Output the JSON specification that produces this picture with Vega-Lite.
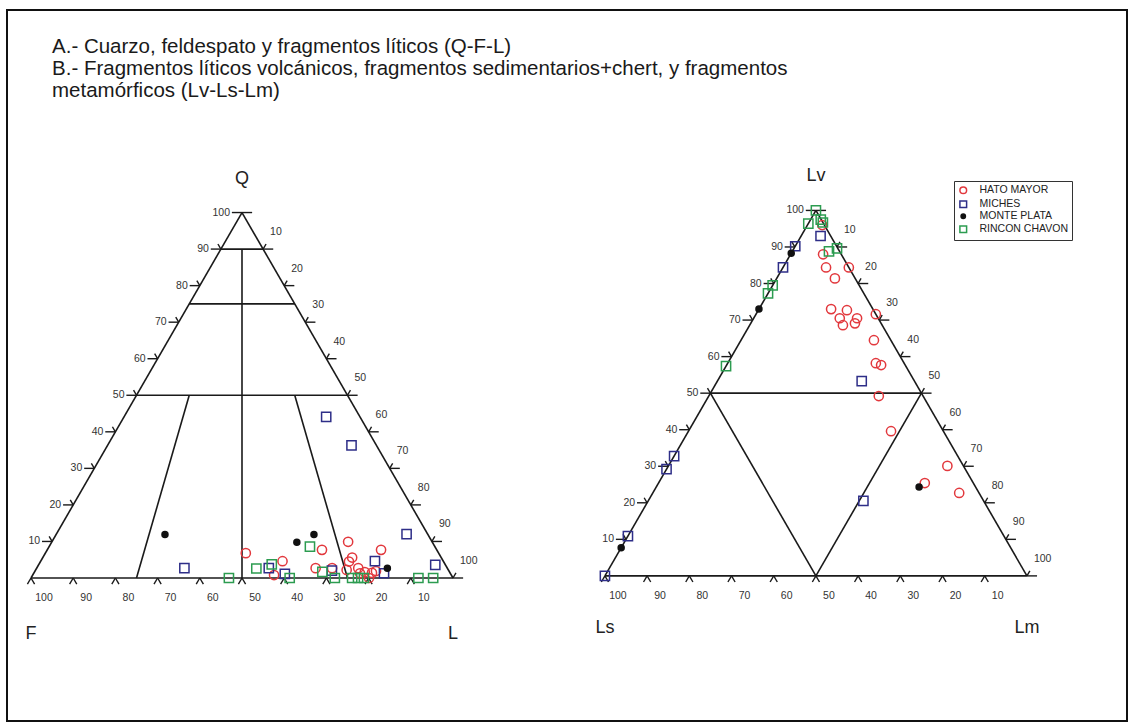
{
  "$schema": "https://vega.github.io/schema/vega-lite/v6.json",
  "width": 1133,
  "height": 726,
  "autosize": {"type": "fit", "contains": "padding"},
  "padding": {"left": 7, "top": 10, "right": 6, "bottom": 5},
  "background": "white",
  "config": {
    "view": {"stroke": "#111111", "strokeWidth": 2},
    "font": "Liberation Sans"
  },
  "datasets": {
    "lineas": [
      {"diagrama": "QFL", "a1": 0, "d1": 0, "a2": 100, "d2": 0},
      {"diagrama": "QFL", "a1": 100, "d1": 0, "a2": 0, "d2": 100},
      {"diagrama": "QFL", "a1": 0, "d1": 0, "a2": 0, "d2": 100},
      {"diagrama": "QFL", "a1": 90, "d1": 0, "a2": 90, "d2": 10},
      {"diagrama": "QFL", "a1": 75, "d1": 0, "a2": 75, "d2": 25},
      {"diagrama": "QFL", "a1": 50, "d1": 0, "a2": 50, "d2": 50},
      {"diagrama": "QFL", "a1": 90, "d1": 5, "a2": 0, "d2": 50},
      {"diagrama": "QFL", "a1": 50, "d1": 12.5, "a2": 0, "d2": 25},
      {"diagrama": "QFL", "a1": 50, "d1": 37.5, "a2": 0, "d2": 75},
      {"diagrama": "LvLsLm", "a1": 0, "d1": 0, "a2": 100, "d2": 0},
      {"diagrama": "LvLsLm", "a1": 100, "d1": 0, "a2": 0, "d2": 100},
      {"diagrama": "LvLsLm", "a1": 0, "d1": 0, "a2": 0, "d2": 100},
      {"diagrama": "LvLsLm", "a1": 50, "d1": 0, "a2": 50, "d2": 50},
      {"diagrama": "LvLsLm", "a1": 50, "d1": 0, "a2": 0, "d2": 50},
      {"diagrama": "LvLsLm", "a1": 50, "d1": 50, "a2": 0, "d2": 50}
    ],
    "marcas": [
      {"diagrama": "QFL", "lado": "izq", "brazo": "h", "v": [10, 20, 30, 40, 50, 60, 70, 80, 90, 100]},
      {"diagrama": "QFL", "lado": "izq", "brazo": "d", "v": [10, 20, 30, 40, 50, 60, 70, 80, 90]},
      {"diagrama": "QFL", "lado": "der", "brazo": "h", "v": [0, 10, 20, 30, 40, 50, 60, 70, 80, 90, 100]},
      {"diagrama": "QFL", "lado": "der", "brazo": "d", "v": [10, 20, 30, 40, 50, 60, 70, 80, 90, 100]},
      {"diagrama": "QFL", "lado": "inf", "brazo": "h", "v": [10, 20, 30, 40, 50, 60, 70, 80, 90, 100]},
      {"diagrama": "QFL", "lado": "inf", "brazo": "d", "v": [10, 20, 30, 40, 50, 60, 70, 80, 90, 100]},
      {"diagrama": "LvLsLm", "lado": "izq", "brazo": "h", "v": [10, 20, 30, 40, 50, 60, 70, 80, 90, 100]},
      {"diagrama": "LvLsLm", "lado": "izq", "brazo": "d", "v": [10, 20, 30, 40, 50, 60, 70, 80, 90]},
      {"diagrama": "LvLsLm", "lado": "der", "brazo": "h", "v": [0, 10, 20, 30, 40, 50, 60, 70, 80, 90, 100]},
      {"diagrama": "LvLsLm", "lado": "der", "brazo": "d", "v": [10, 20, 30, 40, 50, 60, 70, 80, 90, 100]},
      {"diagrama": "LvLsLm", "lado": "inf", "brazo": "h", "v": [10, 20, 30, 40, 50, 60, 70, 80, 90, 100]},
      {"diagrama": "LvLsLm", "lado": "inf", "brazo": "d", "v": [10, 20, 30, 40, 50, 60, 70, 80, 90, 100]}
    ],
    "vertices": [
      {"diagrama": "QFL", "nombre": "Q", "a": 100, "d": 0, "pos": "cima"},
      {"diagrama": "QFL", "nombre": "F", "a": 0, "d": 0, "pos": "base"},
      {"diagrama": "QFL", "nombre": "L", "a": 0, "d": 100, "pos": "base"},
      {"diagrama": "LvLsLm", "nombre": "Lv", "a": 100, "d": 0, "pos": "cima"},
      {"diagrama": "LvLsLm", "nombre": "Ls", "a": 0, "d": 0, "pos": "base"},
      {"diagrama": "LvLsLm", "nombre": "Lm", "a": 0, "d": 100, "pos": "base"}
    ],
    "muestras": [
      {"diagrama": "QFL", "serie": "HATO MAYOR", "Q": 6.8, "L": 47.5},
      {"diagrama": "QFL", "serie": "HATO MAYOR", "Q": 4.6, "L": 57.3},
      {"diagrama": "QFL", "serie": "HATO MAYOR", "Q": 0.8, "L": 57.2},
      {"diagrama": "QFL", "serie": "HATO MAYOR", "Q": 7.7, "L": 65.1},
      {"diagrama": "QFL", "serie": "HATO MAYOR", "Q": 2.7, "L": 66.1},
      {"diagrama": "QFL", "serie": "HATO MAYOR", "Q": 2.7, "L": 70.0},
      {"diagrama": "QFL", "serie": "HATO MAYOR", "Q": 9.9, "L": 70.2},
      {"diagrama": "QFL", "serie": "HATO MAYOR", "Q": 5.6, "L": 73.3},
      {"diagrama": "QFL", "serie": "HATO MAYOR", "Q": 4.5, "L": 73.1},
      {"diagrama": "QFL", "serie": "HATO MAYOR", "Q": 2.2, "L": 73.7},
      {"diagrama": "QFL", "serie": "HATO MAYOR", "Q": 2.7, "L": 76.2},
      {"diagrama": "QFL", "serie": "HATO MAYOR", "Q": 1.3, "L": 77.3},
      {"diagrama": "QFL", "serie": "HATO MAYOR", "Q": 1.4, "L": 80.1},
      {"diagrama": "QFL", "serie": "HATO MAYOR", "Q": 7.7, "L": 79.1},
      {"diagrama": "QFL", "serie": "HATO MAYOR", "Q": 0.0, "L": 80.1},
      {"diagrama": "QFL", "serie": "HATO MAYOR", "Q": 1.6, "L": 78.3},
      {"diagrama": "QFL", "serie": "HATO MAYOR", "Q": 1.9, "L": 80.8},
      {"diagrama": "QFL", "serie": "MICHES", "Q": 44.1, "L": 47.9},
      {"diagrama": "QFL", "serie": "MICHES", "Q": 36.3, "L": 57.8},
      {"diagrama": "QFL", "serie": "MICHES", "Q": 12.0, "L": 83.0},
      {"diagrama": "QFL", "serie": "MICHES", "Q": 3.6, "L": 94.0},
      {"diagrama": "QFL", "serie": "MICHES", "Q": 4.6, "L": 79.2},
      {"diagrama": "QFL", "serie": "MICHES", "Q": 1.3, "L": 83.0},
      {"diagrama": "QFL", "serie": "MICHES", "Q": 2.7, "L": 55.0},
      {"diagrama": "QFL", "serie": "MICHES", "Q": 1.1, "L": 59.6},
      {"diagrama": "QFL", "serie": "MICHES", "Q": 2.7, "L": 35.0},
      {"diagrama": "QFL", "serie": "MICHES", "Q": 2.0, "L": 70.3},
      {"diagrama": "QFL", "serie": "MONTE PLATA", "Q": 11.9, "L": 25.8},
      {"diagrama": "QFL", "serie": "MONTE PLATA", "Q": 9.8, "L": 58.1},
      {"diagrama": "QFL", "serie": "MONTE PLATA", "Q": 11.9, "L": 61.1},
      {"diagrama": "QFL", "serie": "MONTE PLATA", "Q": 2.7, "L": 83.1},
      {"diagrama": "QFL", "serie": "RINCON CHAVON", "Q": 0.0, "L": 46.9},
      {"diagrama": "QFL", "serie": "RINCON CHAVON", "Q": 2.6, "L": 52.1},
      {"diagrama": "QFL", "serie": "RINCON CHAVON", "Q": 3.7, "L": 55.2},
      {"diagrama": "QFL", "serie": "RINCON CHAVON", "Q": 0.0, "L": 61.3},
      {"diagrama": "QFL", "serie": "RINCON CHAVON", "Q": 8.6, "L": 61.8},
      {"diagrama": "QFL", "serie": "RINCON CHAVON", "Q": 1.7, "L": 68.2},
      {"diagrama": "QFL", "serie": "RINCON CHAVON", "Q": 0.0, "L": 72.0},
      {"diagrama": "QFL", "serie": "RINCON CHAVON", "Q": 0.0, "L": 76.1},
      {"diagrama": "QFL", "serie": "RINCON CHAVON", "Q": 0.0, "L": 77.5},
      {"diagrama": "QFL", "serie": "RINCON CHAVON", "Q": 0.0, "L": 78.9},
      {"diagrama": "QFL", "serie": "RINCON CHAVON", "Q": 0.0, "L": 91.8},
      {"diagrama": "QFL", "serie": "RINCON CHAVON", "Q": 0.0, "L": 95.3},
      {"diagrama": "LvLsLm", "serie": "HATO MAYOR", "Lv": 96.0, "Lm": 3.5},
      {"diagrama": "LvLsLm", "serie": "HATO MAYOR", "Lv": 88.0, "Lm": 7.7},
      {"diagrama": "LvLsLm", "serie": "HATO MAYOR", "Lv": 84.4, "Lm": 10.2},
      {"diagrama": "LvLsLm", "serie": "HATO MAYOR", "Lv": 81.4, "Lm": 13.8},
      {"diagrama": "LvLsLm", "serie": "HATO MAYOR", "Lv": 84.4, "Lm": 15.6},
      {"diagrama": "LvLsLm", "serie": "HATO MAYOR", "Lv": 73.0, "Lm": 17.1},
      {"diagrama": "LvLsLm", "serie": "HATO MAYOR", "Lv": 72.7, "Lm": 21.0},
      {"diagrama": "LvLsLm", "serie": "HATO MAYOR", "Lv": 70.5, "Lm": 20.4},
      {"diagrama": "LvLsLm", "serie": "HATO MAYOR", "Lv": 68.6, "Lm": 22.1},
      {"diagrama": "LvLsLm", "serie": "HATO MAYOR", "Lv": 70.5, "Lm": 24.5},
      {"diagrama": "LvLsLm", "serie": "HATO MAYOR", "Lv": 69.1, "Lm": 24.7},
      {"diagrama": "LvLsLm", "serie": "HATO MAYOR", "Lv": 71.6, "Lm": 28.4},
      {"diagrama": "LvLsLm", "serie": "HATO MAYOR", "Lv": 64.5, "Lm": 31.5},
      {"diagrama": "LvLsLm", "serie": "HATO MAYOR", "Lv": 58.2, "Lm": 35.1},
      {"diagrama": "LvLsLm", "serie": "HATO MAYOR", "Lv": 57.7, "Lm": 36.6},
      {"diagrama": "LvLsLm", "serie": "HATO MAYOR", "Lv": 49.2, "Lm": 40.3},
      {"diagrama": "LvLsLm", "serie": "HATO MAYOR", "Lv": 39.6, "Lm": 48.0},
      {"diagrama": "LvLsLm", "serie": "HATO MAYOR", "Lv": 30.1, "Lm": 66.1},
      {"diagrama": "LvLsLm", "serie": "HATO MAYOR", "Lv": 25.4, "Lm": 63.1},
      {"diagrama": "LvLsLm", "serie": "HATO MAYOR", "Lv": 22.7, "Lm": 72.6},
      {"diagrama": "LvLsLm", "serie": "MICHES", "Lv": 93.0, "Lm": 4.6},
      {"diagrama": "LvLsLm", "serie": "MICHES", "Lv": 90.2, "Lm": 0.0},
      {"diagrama": "LvLsLm", "serie": "MICHES", "Lv": 84.4, "Lm": 0.0},
      {"diagrama": "LvLsLm", "serie": "MICHES", "Lv": 53.3, "Lm": 34.2},
      {"diagrama": "LvLsLm", "serie": "MICHES", "Lv": 20.5, "Lm": 51.0},
      {"diagrama": "LvLsLm", "serie": "MICHES", "Lv": 32.8, "Lm": 0.0},
      {"diagrama": "LvLsLm", "serie": "MICHES", "Lv": 29.2, "Lm": 0.0},
      {"diagrama": "LvLsLm", "serie": "MICHES", "Lv": 10.9, "Lm": 0.0},
      {"diagrama": "LvLsLm", "serie": "MICHES", "Lv": 0.0, "Lm": 0.0},
      {"diagrama": "LvLsLm", "serie": "MONTE PLATA", "Lv": 88.3, "Lm": 0.0},
      {"diagrama": "LvLsLm", "serie": "MONTE PLATA", "Lv": 73.0, "Lm": 0.0},
      {"diagrama": "LvLsLm", "serie": "MONTE PLATA", "Lv": 7.7, "Lm": 0.0},
      {"diagrama": "LvLsLm", "serie": "MONTE PLATA", "Lv": 24.3, "Lm": 62.3},
      {"diagrama": "LvLsLm", "serie": "RINCON CHAVON", "Lv": 100.0, "Lm": 0.0},
      {"diagrama": "LvLsLm", "serie": "RINCON CHAVON", "Lv": 96.4, "Lm": 0.0},
      {"diagrama": "LvLsLm", "serie": "RINCON CHAVON", "Lv": 97.5, "Lm": 2.4},
      {"diagrama": "LvLsLm", "serie": "RINCON CHAVON", "Lv": 96.7, "Lm": 3.3},
      {"diagrama": "LvLsLm", "serie": "RINCON CHAVON", "Lv": 88.8, "Lm": 8.7},
      {"diagrama": "LvLsLm", "serie": "RINCON CHAVON", "Lv": 89.6, "Lm": 10.2},
      {"diagrama": "LvLsLm", "serie": "RINCON CHAVON", "Lv": 79.5, "Lm": 0.0},
      {"diagrama": "LvLsLm", "serie": "RINCON CHAVON", "Lv": 77.3, "Lm": 0.0},
      {"diagrama": "LvLsLm", "serie": "RINCON CHAVON", "Lv": 57.4, "Lm": 0.0}
    ]
  },
  "encoding": {
    "x": {"field": "x", "type": "quantitative", "scale": {"domain": [-5.687, 259.716], "nice": false, "zero": false}, "axis": null},
    "y": {"field": "y", "type": "quantitative", "scale": {"domain": [-33.886, 134.597], "nice": false, "zero": false}, "axis": null}
  },
  "layer": [
    {
      "data": {"name": "lineas"},
      "transform": [
        {"calculate": "(datum.diagrama == 'LvLsLm' ? 136 : 0) + datum.d1 + datum.a1 / 2", "as": "x"},
        {"calculate": "(datum.diagrama == 'LvLsLm' ? 0.5 : 0) + datum.a1 * 0.8660254", "as": "y"},
        {"calculate": "(datum.diagrama == 'LvLsLm' ? 136 : 0) + datum.d2 + datum.a2 / 2", "as": "x2"},
        {"calculate": "(datum.diagrama == 'LvLsLm' ? 0.5 : 0) + datum.a2 * 0.8660254", "as": "y2"}
      ],
      "mark": {"type": "rule", "color": "#1a1a1a", "strokeWidth": 1.6},
      "encoding": {"x2": {"field": "x2"}, "y2": {"field": "y2"}}
    },
    {
      "data": {"name": "marcas"},
      "transform": [
        {"flatten": ["v"]},
        {"calculate": "datum.lado == 'izq' ? datum.v : datum.lado == 'der' ? 100 - datum.v : 0", "as": "a"},
        {"calculate": "datum.lado == 'izq' ? 0 : datum.lado == 'der' ? datum.v : 100 - datum.v", "as": "d"},
        {"calculate": "(datum.diagrama == 'LvLsLm' ? 136 : 0) + datum.d + datum.a / 2", "as": "x"},
        {"calculate": "(datum.diagrama == 'LvLsLm' ? 0.5 : 0) + datum.a * 0.8660254", "as": "y"},
        {"calculate": "datum.x + (datum.lado == 'izq' ? (datum.brazo == 'h' ? -2.4 : -0.7) : datum.lado == 'der' ? (datum.brazo == 'h' ? 2.4 : 0.7) : (datum.brazo == 'h' ? -0.85 : 0.85))", "as": "x2"},
        {"calculate": "datum.y + (datum.lado == 'inf' ? -1.45 : (datum.brazo == 'h' ? 0 : 1.2))", "as": "y2"}
      ],
      "mark": {"type": "rule", "color": "#1a1a1a", "strokeWidth": 1.4},
      "encoding": {"x2": {"field": "x2"}, "y2": {"field": "y2"}}
    },
    {
      "data": {"name": "marcas"},
      "transform": [
        {"flatten": ["v"]},
        {"filter": "datum.lado == 'izq' && datum.brazo == 'h'"},
        {"calculate": "(datum.diagrama == 'LvLsLm' ? 136 : 0) + datum.v / 2", "as": "x"},
        {"calculate": "(datum.diagrama == 'LvLsLm' ? 0.5 : 0) + datum.v * 0.8660254", "as": "y"}
      ],
      "mark": {"type": "text", "align": "right", "baseline": "middle", "dx": -12, "fontSize": 10.5, "color": "#333333"},
      "encoding": {"text": {"field": "v", "type": "nominal"}}
    },
    {
      "data": {"name": "marcas"},
      "transform": [
        {"flatten": ["v"]},
        {"filter": "datum.lado == 'der' && datum.brazo == 'h' && datum.v > 0"},
        {"calculate": "(datum.diagrama == 'LvLsLm' ? 136 : 0) + datum.v + (100 - datum.v) / 2", "as": "x"},
        {"calculate": "(datum.diagrama == 'LvLsLm' ? 0.5 : 0) + (100 - datum.v) * 0.8660254", "as": "y"}
      ],
      "mark": {"type": "text", "align": "left", "baseline": "middle", "dx": 7, "dy": -17, "fontSize": 10.5, "color": "#333333"},
      "encoding": {"text": {"field": "v", "type": "nominal"}}
    },
    {
      "data": {"name": "marcas"},
      "transform": [
        {"flatten": ["v"]},
        {"filter": "datum.lado == 'inf' && datum.brazo == 'h'"},
        {"calculate": "(datum.diagrama == 'LvLsLm' ? 136 : 0) + 100 - datum.v", "as": "x"},
        {"calculate": "datum.diagrama == 'LvLsLm' ? 0.5 : 0", "as": "y"}
      ],
      "mark": {"type": "text", "align": "center", "baseline": "middle", "dx": 13, "dy": 20, "fontSize": 10.5, "color": "#333333"},
      "encoding": {"text": {"field": "v", "type": "nominal"}}
    },
    {
      "data": {"name": "vertices"},
      "transform": [
        {"filter": "datum.pos == 'cima'"},
        {"calculate": "(datum.diagrama == 'LvLsLm' ? 136 : 0) + datum.d + datum.a / 2", "as": "x"},
        {"calculate": "(datum.diagrama == 'LvLsLm' ? 0.5 : 0) + datum.a * 0.8660254", "as": "y"}
      ],
      "mark": {"type": "text", "align": "center", "baseline": "middle", "dy": -34, "fontSize": 18, "color": "#222222"},
      "encoding": {"text": {"field": "nombre", "type": "nominal"}}
    },
    {
      "data": {"name": "vertices"},
      "transform": [
        {"filter": "datum.pos == 'base' && datum.diagrama == 'QFL'"},
        {"calculate": "datum.d + datum.a / 2", "as": "x"},
        {"calculate": "datum.a * 0.8660254", "as": "y"}
      ],
      "mark": {"type": "text", "align": "center", "baseline": "middle", "dy": 56, "fontSize": 18, "color": "#222222"},
      "encoding": {"text": {"field": "nombre", "type": "nominal"}}
    },
    {
      "data": {"name": "vertices"},
      "transform": [
        {"filter": "datum.pos == 'base' && datum.diagrama == 'LvLsLm'"},
        {"calculate": "136 + datum.d + datum.a / 2", "as": "x"},
        {"calculate": "0.5 + datum.a * 0.8660254", "as": "y"}
      ],
      "mark": {"type": "text", "align": "center", "baseline": "middle", "dy": 52, "fontSize": 18, "color": "#222222"},
      "encoding": {"text": {"field": "nombre", "type": "nominal"}}
    },
    {
      "data": {"name": "muestras"},
      "transform": [
        {"calculate": "datum.diagrama == 'QFL' ? datum.Q : datum.Lv", "as": "a"},
        {"calculate": "datum.diagrama == 'QFL' ? datum.L : datum.Lm", "as": "d"},
        {"calculate": "(datum.diagrama == 'LvLsLm' ? 136 : 0) + datum.d + datum.a / 2", "as": "x"},
        {"calculate": "(datum.diagrama == 'LvLsLm' ? 0.5 : 0) + datum.a * 0.8660254", "as": "y"}
      ],
      "mark": {"type": "point", "size": 85, "strokeWidth": 1.5, "opacity": 1},
      "encoding": {
        "shape": {
          "field": "serie", "type": "nominal",
          "scale": {
            "domain": ["HATO MAYOR", "MICHES", "MONTE PLATA", "RINCON CHAVON"],
            "range": ["circle", "square", "M-0.65,0A0.65,0.65 0 1,0 0.65,0A0.65,0.65 0 1,0 -0.65,0Z", "square"]
          },
          "legend": {"orient": "none", "legendX": 947, "legendY": 171, "title": null, "padding": 4, "labelOffset": 11, "rowPadding": 0, "labelFontSize": 10.5, "labelFont": "Liberation Sans", "labelColor": "#222222", "strokeColor": "#333333", "symbolSize": 45, "symbolStrokeWidth": 1.5, "encode": {"symbols": {"update": {"size": {"value": 45}}}, "legend": {"update": {"strokeWidth": {"value": 2}}}}}
        },
        "stroke": {
          "field": "serie", "type": "nominal",
          "scale": {
            "domain": ["HATO MAYOR", "MICHES", "MONTE PLATA", "RINCON CHAVON"],
            "range": ["#e2383d", "#2e2e88", "#111111", "#2c9c50"]
          },
          "legend": {"orient": "none", "legendX": 947, "legendY": 171, "title": null, "padding": 4, "labelOffset": 11, "rowPadding": 0, "labelFontSize": 10.5, "labelFont": "Liberation Sans", "labelColor": "#222222", "strokeColor": "#333333", "symbolSize": 45, "symbolStrokeWidth": 1.5, "encode": {"symbols": {"update": {"size": {"value": 45}}}, "legend": {"update": {"strokeWidth": {"value": 2}}}}}
        },
        "fill": {
          "field": "serie", "type": "nominal",
          "scale": {
            "domain": ["HATO MAYOR", "MICHES", "MONTE PLATA", "RINCON CHAVON"],
            "range": ["transparent", "transparent", "#111111", "transparent"]
          },
          "legend": {"orient": "none", "legendX": 947, "legendY": 171, "title": null, "padding": 4, "labelOffset": 11, "rowPadding": 0, "labelFontSize": 10.5, "labelFont": "Liberation Sans", "labelColor": "#222222", "strokeColor": "#333333", "symbolSize": 45, "symbolStrokeWidth": 1.5, "encode": {"symbols": {"update": {"size": {"value": 45}}}, "legend": {"update": {"strokeWidth": {"value": 2}}}}}
        }
      }
    },
    {
      "data": {"values": [{"titulo": "A-B"}]},
      "transform": [
        {"calculate": "4.98", "as": "x"},
        {"calculate": "124.29", "as": "y"}
      ],
      "mark": {"type": "text", "align": "left", "baseline": "alphabetic", "fontSize": 20.5, "lineHeight": 22, "color": "#1a1a1a"},
      "encoding": {
        "text": {"value": [
          "A.- Cuarzo, feldespato y fragmentos líticos (Q-F-L)",
          "B.- Fragmentos líticos volcánicos, fragmentos sedimentarios+chert, y fragmentos",
          "metamórficos (Lv-Ls-Lm)"
        ]}
      }
    }
  ]
}
